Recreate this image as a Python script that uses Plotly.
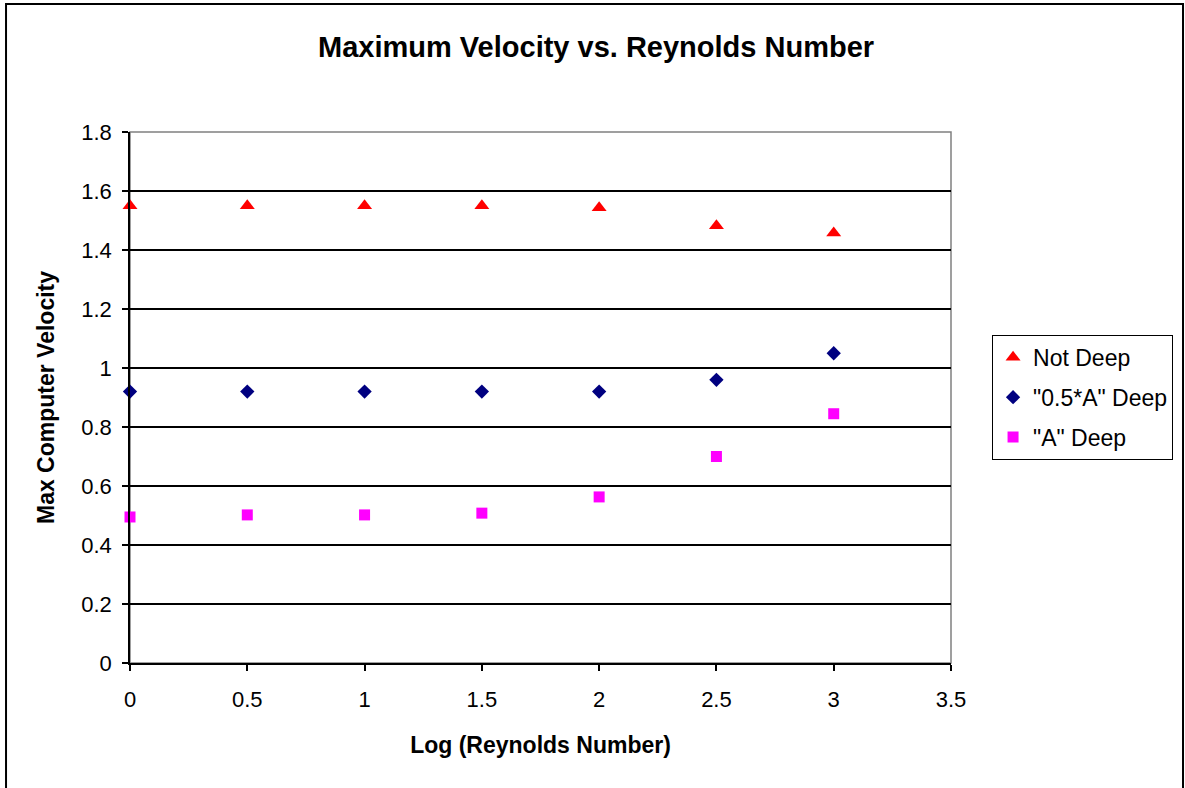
import plotly.graph_objects as go

log_re = [0, 0.5, 1, 1.5, 2, 2.5, 3]
not_deep = [1.55, 1.55, 1.55, 1.55, 1.543, 1.482, 1.458]
half_a_deep = [0.92, 0.92, 0.92, 0.92, 0.92, 0.96, 1.05]
a_deep = [0.495, 0.502, 0.502, 0.508, 0.563, 0.70, 0.845]

series = [
    ("Not Deep", not_deep, "triangle-up", "#FF0000", 13),
    ('"0.5*A" Deep', half_a_deep, "diamond", "#000080", 11),
    ('"A" Deep', a_deep, "square", "#FF00FF", 11),
]

fig = go.Figure()
for i, (name, ys, sym, col, sz) in enumerate(series):
    fig.add_trace(go.Scatter(
        x=log_re, y=ys, mode="markers", name=name, legendgroup=f"g{i}",
        marker=dict(symbol=sym, color=col, size=sz, line=dict(width=0)),
        cliponaxis=False,
    ))

font = "Liberation Sans, Arial, sans-serif"
fig.update_layout(
    width=1185, height=788,
    margin=dict(l=130, r=234, t=132, b=125),
    paper_bgcolor="white", plot_bgcolor="white",
    font=dict(family=font, size=22, color="black"),
    title=dict(text="<b>Maximum Velocity vs. Reynolds Number</b>",
               x=0.503, xanchor="center", y=0.94, yanchor="middle",
               font=dict(size=29, family=font)),
    showlegend=True,
    legend=dict(x=1.05, y=0.618, xanchor="left", yanchor="top",
                bordercolor="black", borderwidth=1, bgcolor="white",
                font=dict(size=23, family=font), tracegroupgap=7,
                itemwidth=30),
    xaxis=dict(range=[0, 3.5], dtick=0.5, tick0=0, showgrid=False,
               zeroline=False, showline=True, linecolor="black", linewidth=1.5,
               ticks="outside", ticklen=6, tickcolor="black", tickwidth=1.5,
               ticklabelstandoff=10,
               title=dict(text="<b>Log (Reynolds Number)</b>", standoff=26,
                          font=dict(size=23))),
    yaxis=dict(range=[0, 1.8], dtick=0.2, tick0=0, showgrid=True,
               gridcolor="black", gridwidth=1.5, zeroline=False,
               showline=True, linecolor="black", linewidth=1.5,
               ticks="outside", ticklen=6, tickcolor="black", tickwidth=1.5,
               ticklabelstandoff=6,
               title=dict(text="<b>Max Computer Velocity</b>", standoff=20,
                          font=dict(size=23))),
    shapes=[
        dict(type="rect", xref="paper", yref="paper", x0=0, x1=1, y0=0, y1=1,
             line=dict(color="#808080", width=1.5), layer="below"),
        dict(type="rect", xref="paper", yref="paper",
             x0=-0.151, x1=1.2826, y0=-0.3, y1=1.2411,
             line=dict(color="black", width=2), layer="below"),
    ],
)

fig.write_html("out.html", config={"displayModeBar": False},
               post_script="document.body.style.margin='0';")
